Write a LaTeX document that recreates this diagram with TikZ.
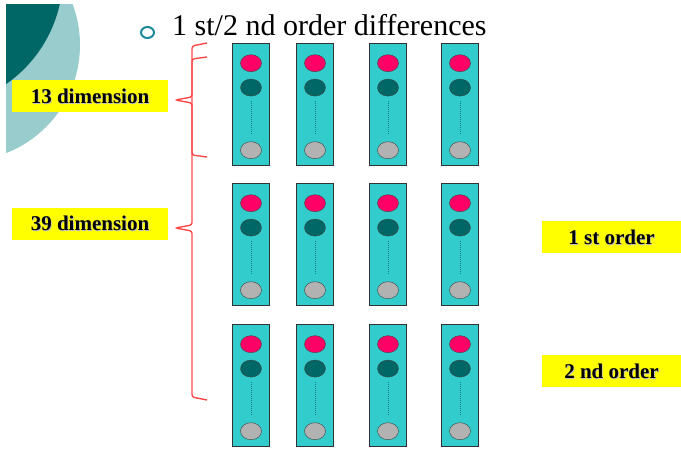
\documentclass[tikz,border=0pt]{standalone}
\usepackage{fontspec}
\setmainfont{Liberation Serif}
\usetikzlibrary{positioning,shapes.geometric}
\definecolor{cy}{HTML}{33CCCC}
\definecolor{rd}{HTML}{FF0066}
\definecolor{tl}{HTML}{006666}
\definecolor{gy}{HTML}{B2B2B2}
\definecolor{yl}{HTML}{FFFF00}
\definecolor{brc}{HTML}{FF4848}
\definecolor{bgl}{HTML}{99CCCC}
\definecolor{bul}{HTML}{1A8A9A}
% bold label with a soft drop shadow
\newcommand{\shd}[1]{\makebox[0pt][l]{\kern0.8pt\raisebox{-0.8pt}{\textcolor{black!25}{#1}}}#1}
\tikzset{
  vec/.style={draw=black!80,fill=cy,minimum width=37pt,minimum height=122pt,inner sep=0pt,anchor=north},
  lamp/.style={ellipse,draw=black!75,inner sep=0pt,minimum width=21pt,minimum height=17pt},
  rlamp/.style={lamp,fill=rd},
  tlamp/.style={lamp,fill=tl},
  glamp/.style={lamp,fill=gy},
  dots/.style={draw=tl!80!cyan,line width=0.7pt,dash pattern=on 1pt off 1pt,shorten <=4.5pt,shorten >=8.5pt},
  tag/.style={fill=yl,font=\bfseries\fontsize{21}{24}\selectfont,minimum height=32pt,inner sep=0pt},
  brace/.style={draw=brc,line width=1.4pt,rounded corners=2.5pt},
}

\begin{document}
\begin{tikzpicture}[x=1pt,y=-1pt,node distance=7pt]
\useasboundingbox (0,0) rectangle (681,449);
% slide corner
\begin{scope}
  \clip (6,5) rectangle (200,200);
  \fill[bgl] (-36,45) circle[radius=116pt];
  \fill[tl] (-70,-25) circle[radius=133pt];
\end{scope}
% heading
\node[ellipse,draw=bul,line width=2pt,minimum width=13pt,minimum height=11pt,inner sep=0pt] (dot) at (147.5,32.5) {};
\node[anchor=base west,font=\fontsize{30}{34}\selectfont,inner sep=0pt] (head) at (172,36) {1 st/2 nd order differences};
% feature vectors, three rows of four
\foreach \r/\y in {1/43,2/183,3/324}{
  \foreach \c/\x in {1/251,2/315,3/388,4/460}{
    \node[vec] (v\r\c) at (\x,\y) {};
    \node[rlamp,below=11.5pt of v\r\c.north] (r\r\c) {};
    \node[tlamp,below=of r\r\c] (t\r\c) {};
    \node[glamp,above=6.5pt of v\r\c.south] (g\r\c) {};
    \draw[dots] (t\r\c) -- (g\r\c);
  }
}
% labels
\node[tag,minimum width=156pt] (d13) at (90,96.5) {\shd{13 dimension}};
\node[tag,minimum width=156pt] (d39) at (90,224) {\shd{39 dimension}};
\node[tag,minimum width=139pt] (o1) at (611.5,237.5) {\shd{1 st order}};
\node[tag,minimum width=139pt] (o2) at (611.5,371.5) {\shd{2 nd order}};
% braces
\coordinate (tip13) at ([xshift=7pt,yshift=-3.5pt]d13.east);
\coordinate (tip39) at ([xshift=7pt,yshift=-4pt]d39.east);
\draw[brace] (207,43) -- (192,46) -- (192,225) -- (tip39) -- (192,231) -- (192,397) -- (207,400);
\draw[brace] (207,57) -- (192,59) -- (192,97) -- (tip13) -- (192,103) -- (192,155) -- (207,157);
\end{tikzpicture}
\end{document}
